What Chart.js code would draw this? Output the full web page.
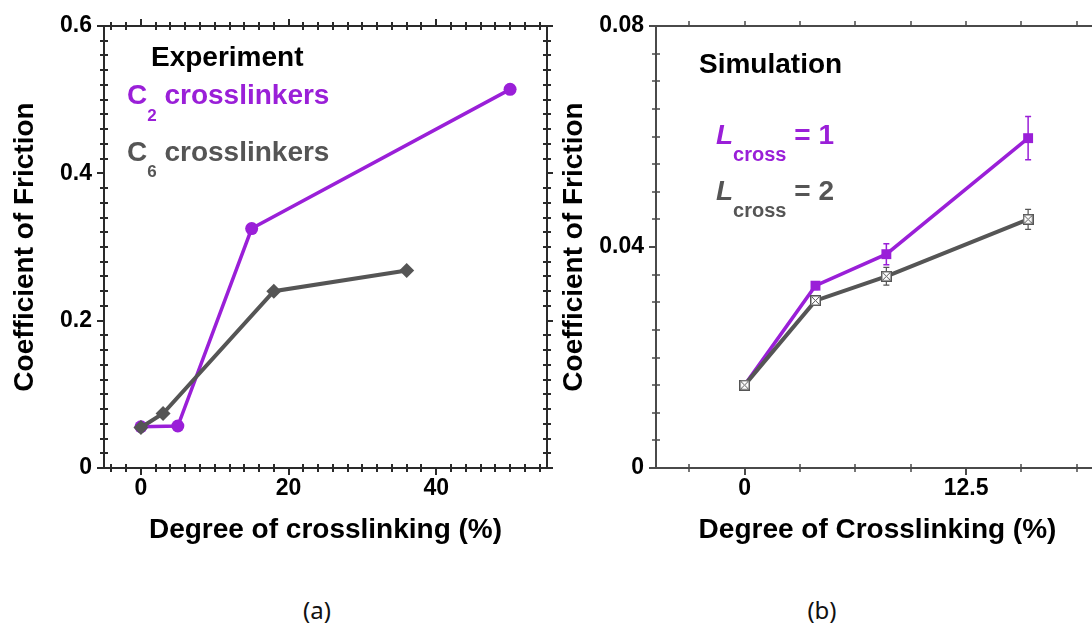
<!DOCTYPE html>
<html>
<head>
<meta charset="utf-8">
<script src="https://cdn.jsdelivr.net/npm/chart.js@4.4.1/dist/chart.umd.min.js"></script>
<style>
  html, body { margin: 0; padding: 0; background: #fff; }
  body { width: 1092px; height: 630px; overflow: hidden; position: relative; }
  .box { position: absolute; top: 0; width: 560px; height: 560px; }
  #expBox { left: 0; }
  #simBox { left: 550px; }
  .panel { position: absolute; top: 593px; font: 24px "Noto Sans", sans-serif; color: #111; transform: translateX(-50%); }
</style>
</head>
<body>
<div class="box" id="expBox"><canvas id="expChart" width="560" height="560"></canvas></div>
<div class="box" id="simBox"><canvas id="simChart" width="560" height="560"></canvas></div>
<div class="panel" style="left:317px">(a)</div>
<div class="panel" style="left:822px">(b)</div>
<script>
const PURPLE = "#9a1fd8";
const GRAY = "#555555";
const FONT = "'Liberation Sans', Arial, sans-serif";

// (a) experiment
const expC2X = [0, 5, 15, 50];
const expC2Y = [0.056, 0.057, 0.325, 0.514];
const expC6X = [0, 3, 18, 36];
const expC6Y = [0.055, 0.074, 0.240, 0.268];
const expXTicks = [0, 20, 40];
const expXLabels = ["0", "20", "40"];
const expYTicks = [0, 0.2, 0.4, 0.6];
const expYLabels = ["0", "0.2", "0.4", "0.6"];

// (b) simulation
const simX = [0, 4, 8, 16];
const simL1 = [0.015, 0.033, 0.0387, 0.0597];
const simL1Err = [0.0004, 0.0007, 0.0019, 0.0039];
const simL2 = [0.015, 0.0303, 0.0347, 0.0450];
const simL2Err = [0.0004, 0.0006, 0.0016, 0.0018];
const simXTicks = [0, 12.5];
const simXLabels = ["0", "12.5"];
const simYTicks = [0, 0.04, 0.08];
const simYLabels = ["0", "0.04", "0.08"];

const toPoints = (xs, ys) => xs.map((x, i) => ({ x, y: ys[i] }));

function axis(opts) {
  const isY = opts.isY;
  return {
    type: "linear",
    min: opts.min,
    max: opts.max,
    afterBuildTicks: s => { s.ticks = opts.ticks.map(v => ({ value: v })); },
    afterFit: s => { if (isY) s.width = opts.size; else s.height = opts.size; },
    ticks: {
      callback: (v, i) => opts.labels[i],
      font: { family: FONT, size: 23, weight: "bold" },
      color: "#000",
      padding: isY ? 5 : 0,
      autoSkip: false,
      maxRotation: 0
    },
    grid: { drawOnChartArea: false, drawTicks: true, tickLength: 7, color: opts.color, lineWidth: 2 },
    border: { display: false },
    title: {
      display: true,
      text: opts.title,
      color: "#000",
      font: { family: FONT, size: 28, weight: "bold" },
      padding: isY ? { top: opts.titlePad, bottom: 0 } : { top: 0, bottom: opts.titlePad }
    }
  };
}

// axis box with minor ticks; loops over the scale range in fixed steps
function framePlugin(cfg) {
  const steps = (min, max, step) => {
    const out = [];
    for (let k = Math.ceil(min / step - 1e-9); k * step <= max + 1e-9; k++) out.push(k * step);
    return out;
  };
  const isMajor = (v, list) => list.some(m => Math.abs(m - v) < 1e-9);
  return {
    id: "frame" + cfg.name,
    afterDraw(chart) {
      const { ctx, chartArea: a, scales: { x, y } } = chart;
      ctx.save();
      ctx.strokeStyle = cfg.color;
      ctx.lineWidth = cfg.width;
      ctx.lineCap = "butt";
      ctx.beginPath();
      ctx.moveTo(a.left, a.top - 1); ctx.lineTo(a.left, a.bottom + 1);
      ctx.moveTo(a.left - 1, a.bottom); ctx.lineTo(a.right + 1, a.bottom);
      ctx.moveTo(a.left - 1, a.top); ctx.lineTo(a.right + 1, a.top);
      ctx.moveTo(a.right, a.top - 1); ctx.lineTo(a.right, a.bottom + 1);
      ctx.stroke();

      ctx.lineWidth = cfg.tickWidth;
      ctx.beginPath();
      for (const v of steps(x.min, x.max, cfg.xStep)) {
        const px = Math.round(x.getPixelForValue(v));
        const major = isMajor(v, cfg.xMajors);
        if (!major) { ctx.moveTo(px, a.bottom - 4); ctx.lineTo(px, a.bottom + 4); }
        if (cfg.topCross && !major) { ctx.moveTo(px, a.top - 4); ctx.lineTo(px, a.top + 4); }
        else if (cfg.topCross) { ctx.moveTo(px, a.top - 7); ctx.lineTo(px, a.top); }
        else { ctx.moveTo(px, a.top - 5); ctx.lineTo(px, a.top); }
      }
      for (const v of steps(y.min, y.max, cfg.yStep)) {
        const py = Math.round(y.getPixelForValue(v));
        const major = isMajor(v, cfg.yMajors);
        if (!major) { ctx.moveTo(a.left - 4, py); ctx.lineTo(a.left + 4, py); }
        if (cfg.rightTicks) {
          if (major) { ctx.moveTo(a.right, py); ctx.lineTo(a.right + 6, py); }
          else { ctx.moveTo(a.right - 4, py); ctx.lineTo(a.right + 4, py); }
        }
      }
      ctx.stroke();
      ctx.restore();
    }
  };
}

// vertical error bars with short caps, drawn under the markers
const errorBarPlugin = {
  id: "errorBars",
  beforeDatasetsDraw(chart) {
    const { ctx, scales: { y } } = chart;
    chart.data.datasets.forEach((ds, i) => {
      if (!ds.errors) return;
      const meta = chart.getDatasetMeta(i);
      ctx.save();
      ctx.strokeStyle = ds.borderColor;
      ctx.lineWidth = ds.errorWidth || 1.2;
      ctx.beginPath();
      meta.data.forEach((pt, j) => {
        const v = ds.data[j].y, e = ds.errors[j];
        const top = y.getPixelForValue(v + e), bot = y.getPixelForValue(v - e);
        ctx.moveTo(pt.x, top); ctx.lineTo(pt.x, bot);
        ctx.moveTo(pt.x - 3, top); ctx.lineTo(pt.x + 3, top);
        ctx.moveTo(pt.x - 3, bot); ctx.lineTo(pt.x + 3, bot);
      });
      ctx.stroke();
      ctx.restore();
    });
  }
};

// text runs with subscripts
function drawRich(ctx, x, baseline, parts) {
  for (const p of parts) {
    ctx.font = (p.italic ? "italic " : "") + "bold " + p.size + "px " + FONT;
    ctx.fillStyle = p.color;
    ctx.fillText(p.text, x, baseline + (p.dy || 0));
    x += ctx.measureText(p.text).width;
  }
}

function notesPlugin(lines) {
  return {
    id: "notes",
    afterDraw(chart) {
      const ctx = chart.ctx;
      ctx.save();
      ctx.textBaseline = "alphabetic";
      ctx.textAlign = "left";
      lines.forEach(l => drawRich(ctx, l.x, l.y, l.parts));
      ctx.restore();
    }
  };
}

// open square with a cross inside
function crossBox(size, color) {
  const c = document.createElement("canvas");
  c.width = c.height = size;
  const g = c.getContext("2d");
  g.fillStyle = "#fff";
  g.fillRect(0, 0, size, size);
  g.strokeStyle = color;
  g.lineWidth = 1.5;
  g.strokeRect(0.75, 0.75, size - 1.5, size - 1.5);
  g.lineWidth = 1;
  g.beginPath();
  g.moveTo(2, 2); g.lineTo(size - 2, size - 2);
  g.moveTo(size - 2, 2); g.lineTo(2, size - 2);
  g.stroke();
  return c;
}

const common = {
  responsive: false,
  animation: false,
  plugins: { legend: { display: false }, tooltip: { enabled: false } }
};

new Chart(document.getElementById("expChart"), {
  type: "scatter",
  data: {
    datasets: [
      {
        label: "C6 crosslinkers",
        data: toPoints(expC6X, expC6Y),
        showLine: true,
        borderColor: GRAY,
        backgroundColor: GRAY,
        borderWidth: 4,
        pointStyle: "rectRot",
        pointRadius: 7.5,
        pointBorderWidth: 0
      },
      {
        label: "C2 crosslinkers",
        data: toPoints(expC2X, expC2Y),
        showLine: true,
        borderColor: PURPLE,
        backgroundColor: PURPLE,
        borderWidth: 3.5,
        pointStyle: "circle",
        pointRadius: 6.5,
        pointBorderWidth: 0
      }
    ]
  },
  options: {
    ...common,
    layout: { padding: { left: 0, top: 26, right: 13, bottom: 0 } },
    scales: {
      x: axis({ min: -5, max: 55, ticks: expXTicks, labels: expXLabels, title: "Degree of crosslinking (%)",
                isY: false, size: 92, titlePad: 13, color: "#2a2a2a" }),
      y: axis({ min: 0, max: 0.6, ticks: expYTicks, labels: expYLabels, title: "Coefficient of Friction",
                isY: true, size: 104, titlePad: 8, color: "#2a2a2a" })
    }
  },
  plugins: [
    framePlugin({ name: "Exp", color: "#2a2a2a", width: 2, tickWidth: 2, xStep: 2, yStep: 0.02,
                  xMajors: expXTicks, yMajors: expYTicks, topCross: true, rightTicks: true }),
    notesPlugin([
      { x: 151, y: 66, parts: [{ text: "Experiment", size: 28, color: "#000" }] },
      { x: 127, y: 104, parts: [
        { text: "C", size: 28, color: PURPLE },
        { text: "2", size: 17, color: PURPLE, dy: 17 },
        { text: " crosslinkers", size: 28, color: PURPLE }] },
      { x: 127, y: 161, parts: [
        { text: "C", size: 28, color: GRAY },
        { text: "6", size: 17, color: GRAY, dy: 16 },
        { text: " crosslinkers", size: 28, color: GRAY }] }
    ])
  ]
});

new Chart(document.getElementById("simChart"), {
  type: "scatter",
  data: {
    datasets: [
      {
        label: "Lcross = 2",
        data: toPoints(simX, simL2),
        errors: simL2Err,
        errorWidth: 1.2,
        showLine: true,
        borderColor: GRAY,
        backgroundColor: "#fff",
        borderWidth: 4,
        pointStyle: crossBox(11, GRAY),
        pointRadius: 6,
        pointBorderWidth: 0
      },
      {
        label: "Lcross = 1",
        data: toPoints(simX, simL1),
        errors: simL1Err,
        errorWidth: 1.5,
        showLine: true,
        borderColor: PURPLE,
        backgroundColor: PURPLE,
        borderWidth: 3.5,
        pointStyle: "rect",
        pointRadius: 7,
        pointBorderWidth: 0
      }
    ]
  },
  options: {
    ...common,
    layout: { padding: { left: 0, top: 26, right: 11, bottom: 0 } },
    scales: {
      x: axis({ min: -5, max: 20, ticks: simXTicks, labels: simXLabels, title: "Degree of Crosslinking (%)",
                isY: false, size: 92, titlePad: 13, color: "#4a4a4a" }),
      y: axis({ min: 0, max: 0.08, ticks: simYTicks, labels: simYLabels, title: "Coefficient of Friction",
                isY: true, size: 106, titlePad: 7, color: "#4a4a4a" })
    }
  },
  plugins: [
    errorBarPlugin,
    framePlugin({ name: "Sim", color: "#4a4a4a", width: 2, tickWidth: 1.5, xStep: 3.125, yStep: 0.005,
                  xMajors: simXTicks, yMajors: simYTicks, topCross: false, rightTicks: false }),
    notesPlugin([
      { x: 149, y: 73, parts: [{ text: "Simulation", size: 28, color: "#000" }] },
      { x: 166, y: 144, parts: [
        { text: "L", size: 28, italic: true, color: PURPLE },
        { text: "cross", size: 20, color: PURPLE, dy: 17 },
        { text: " = 1", size: 28, color: PURPLE }] },
      { x: 166, y: 200, parts: [
        { text: "L", size: 28, italic: true, color: GRAY },
        { text: "cross", size: 20, color: GRAY, dy: 17 },
        { text: " = 2", size: 28, color: GRAY }] }
    ])
  ]
});
</script>
</body>
</html>
